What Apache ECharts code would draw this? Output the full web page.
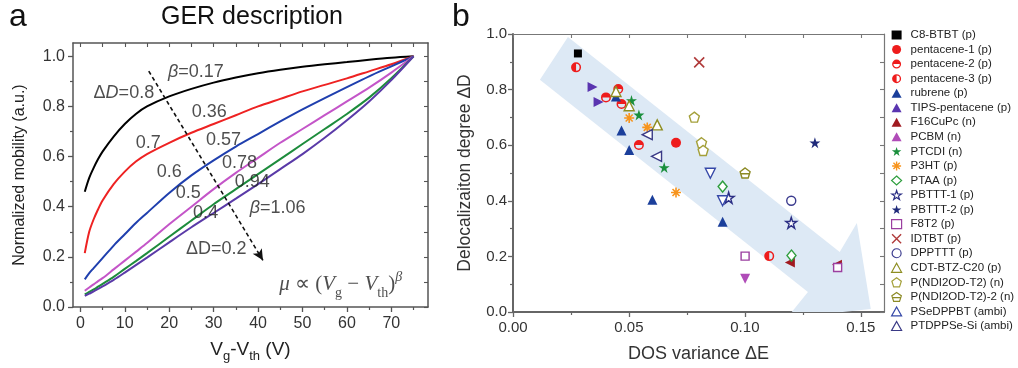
<!DOCTYPE html>
<html>
<head>
<meta charset="utf-8">
<script src="https://cdn.jsdelivr.net/npm/echarts@6.0.0/dist/echarts.min.js"></script>
<style>
  html, body { margin: 0; padding: 0; background: #fff; }
  #chart { width: 1018px; height: 368px; }
</style>
</head>
<body>
<div id="chart"></div>
<script>
const FONT = "'Liberation Sans', Arial, sans-serif";

// ---- panel a: normalized mobility vs Vg-Vth, one curve per beta ----
const vgValues = [1, 2, 3, 4, 5, 7.5, 10, 12.5, 15, 20, 25, 30, 35, 40, 45, 50, 55, 60, 65, 70, 75];
const mobilityB017 = [0.46, 0.515, 0.555, 0.59, 0.62, 0.68, 0.73, 0.77, 0.80, 0.84, 0.87, 0.895, 0.915, 0.932, 0.946, 0.958, 0.968, 0.977, 0.986, 0.994, 1.0];
const mobilityB036 = [0.215, 0.30, 0.35, 0.39, 0.425, 0.49, 0.54, 0.58, 0.61, 0.655, 0.695, 0.73, 0.765, 0.80, 0.83, 0.86, 0.886, 0.912, 0.94, 0.968, 1.0];
const mobilityB057 = [0.11, 0.135, 0.155, 0.175, 0.195, 0.245, 0.29, 0.335, 0.375, 0.455, 0.525, 0.585, 0.64, 0.69, 0.74, 0.788, 0.833, 0.877, 0.92, 0.96, 1.0];
const mobilityB078 = [0.065, 0.078, 0.09, 0.103, 0.115, 0.15, 0.185, 0.22, 0.255, 0.33, 0.40, 0.47, 0.535, 0.595, 0.655, 0.71, 0.765, 0.82, 0.875, 0.935, 1.0];
const mobilityB094 = [0.05, 0.06, 0.07, 0.081, 0.092, 0.12, 0.152, 0.183, 0.215, 0.28, 0.345, 0.41, 0.47, 0.53, 0.59, 0.65, 0.71, 0.77, 0.835, 0.912, 1.0];
const mobilityB106 = [0.044, 0.053, 0.062, 0.072, 0.082, 0.108, 0.137, 0.167, 0.197, 0.258, 0.318, 0.375, 0.432, 0.49, 0.55, 0.61, 0.675, 0.745, 0.82, 0.905, 1.0];

const vgTicks = [0, 10, 20, 30, 40, 50, 60, 70];
const vgMinorTicks = [5, 15, 25, 35, 45, 55, 65, 75];
const mobilityTicks = [0, 0.2, 0.4, 0.6, 0.8, 1.0];
const mobilityMinorTicks = [0.1, 0.3, 0.5, 0.7, 0.9];

// text, x, y
const curveLabels = [
  ['{i|β}=0.17', 26, 0.936],
  ['Δ{i|D}=0.8', 9.8, 0.853],
  ['0.36', 29, 0.777],
  ['0.7', 15.3, 0.653],
  ['0.57', 32.2, 0.665],
  ['0.6', 20, 0.538],
  ['0.78', 35.8, 0.574],
  ['0.5', 24.3, 0.454],
  ['0.94', 38.7, 0.498],
  ['0.4', 28.2, 0.374],
  ['{i|β}=1.06', 44.4, 0.394],
  ['ΔD=0.2', 30.6, 0.233]
];
const formulaPos = [58.6, 0.088];
const trendLine = [[15.4, 0.941], [41.1, 0.186]];

// ---- panel b: delocalization degree vs DOS variance ----
const dosC8BTBT = [[0.028, 0.93]];
const dosPentacene1 = [[0.0703, 0.609]];
const dosPentacene2 = [[0.0401, 0.772], [0.0454, 0.802], [0.0468, 0.748], [0.0543, 0.601]];
const dosPentacene3 = [[0.0272, 0.880], [0.1105, 0.201]];
const dosRubrene = [[0.0444, 0.775], [0.0468, 0.653], [0.0501, 0.583], [0.0601, 0.404], [0.0904, 0.325]];
const dosTipsPentacene = [[0.0343, 0.809], [0.0369, 0.755]];
const dosF16CuPc = [[0.1194, 0.178], [0.1397, 0.170]];
const dosPCBM = [[0.1001, 0.120]];
const dosPTCDI = [[0.0511, 0.761], [0.0543, 0.709], [0.0652, 0.520]];
const dosP3HT = [[0.0501, 0.698], [0.0579, 0.664], [0.0703, 0.430]];
const dosPTAA = [[0.0904, 0.451], [0.1201, 0.203]];
const dosPBTTT1 = [[0.0930, 0.411], [0.1200, 0.321]];
const dosPBTTT2 = [[0.1302, 0.609]];
const dosF8T2 = [[0.1001, 0.201], [0.1400, 0.160]];
const dosIDTBT = [[0.0803, 0.898]];
const dosDPPTTT = [[0.1200, 0.400]];
const dosCDTBTZ = [[0.0444, 0.793], [0.0501, 0.742], [0.0622, 0.673]];
const dosPNDI = [[0.0782, 0.701], [0.0813, 0.609], [0.0820, 0.581]];
const dosPNDI2 = [[0.1001, 0.500]];
const dosPSeDPPBT = [[0.0851, 0.499], [0.0904, 0.400]];
const dosPTDPPSeSi = [[0.0579, 0.638], [0.0619, 0.560]];

const dosTicks = [0, 0.05, 0.10, 0.15];
const dosMinorTicks = [0.025, 0.075, 0.125];
const delocTicks = [0, 0.2, 0.4, 0.6, 0.8, 1.0];
const delocMinorTicks = [0.1, 0.3, 0.5, 0.7, 0.9];

// outline of the pale trend arrow, in data units
const trendArrow = [[0.0237, 0.989], [0.1409, 0.216], [0.1483, 0.320], [0.1543, 0.011],
                    [0.1181, -0.022], [0.1272, 0.072], [0.0116, 0.835]];

// symbols
const STAR = 'path://M50,0L61.2,34.5L97.6,34.5L68.2,55.9L79.4,90.5L50,69.1L20.6,90.5L31.8,55.9L2.4,34.5L38.8,34.5Z';
const ASTERISK = 'path://M0,10L20,10M10,0L10,20M3,3L17,17M17,3L3,17';
const CROSS = 'path://M0,0L20,20M20,0L0,20';
const PENTAGON = 'path://M10,0L19.5,6.9L15.9,18.1L4.1,18.1L0.5,6.9Z';
const PENTAGON_BAR = 'path://M10,0L19.5,6.9L15.9,18.1L4.1,18.1L0.5,6.9ZM1.5,10.5L18.5,10.5';
const HALF_TOP = 'path://M10,0A10,10,0,1,1,10,20A10,10,0,1,1,10,0ZM17,10L3,10A7,7,0,0,0,17,10Z';
const HALF_LEFT = 'path://M10,0A10,10,0,1,1,10,20A10,10,0,1,1,10,0ZM10,3L10,17A7,7,0,0,0,10,3Z';

// name, data, symbol, size, rotate, color, hollow
const materials = [
  ['C8-BTBT (p)', dosC8BTBT, 'rect', 8, 0, '#000000', false],
  ['pentacene-1 (p)', dosPentacene1, 'circle', 10, 0, '#ee1c1c', false],
  ['pentacene-2 (p)', dosPentacene2, HALF_TOP, 10, 0, '#ee1c1c', false],
  ['pentacene-3 (p)', dosPentacene3, HALF_LEFT, 10, 0, '#ee1c1c', false],
  ['rubrene (p)', dosRubrene, 'triangle', 10, 0, '#1b3f9b', false],
  ['TIPS-pentacene (p)', dosTipsPentacene, 'triangle', 10, -90, '#5a35b0', false],
  ['F16CuPc (n)', dosF16CuPc, 'triangle', 10, 90, '#a01a20', false],
  ['PCBM (n)', dosPCBM, 'triangle', 10, 180, '#b04cb8', false],
  ['PTCDI (n)', dosPTCDI, STAR, 11, 0, '#1a8f3c', false],
  ['P3HT (p)', dosP3HT, ASTERISK, 10, 0, '#f7941d', false],
  ['PTAA (p)', dosPTAA, 'diamond', 10, 0, '#2e9e3e', true],
  ['PBTTT-1 (p)', dosPBTTT1, STAR, 11, 0, '#2b2e84', true],
  ['PBTTT-2 (p)', dosPBTTT2, STAR, 11, 0, '#1f2a7a', false],
  ['F8T2 (p)', dosF8T2, 'rect', 8, 0, '#9b3fa0', true],
  ['IDTBT (p)', dosIDTBT, CROSS, 10, 0, '#b03a3a', false],
  ['DPPTTT (p)', dosDPPTTT, 'circle', 9, 0, '#3b3b8e', true],
  ['CDT-BTZ-C20 (p)', dosCDTBTZ, 'triangle', 10, 0, '#8e8e22', true],
  ['P(NDI2OD-T2) (n)', dosPNDI, PENTAGON, 10, 0, '#a4a03a', true],
  ['P(NDI2OD-T2)-2 (n)', dosPNDI2, PENTAGON_BAR, 10, 0, '#8c8a25', true],
  ['PSeDPPBT (ambi)', dosPSeDPPBT, 'triangle', 10, 180, '#3548a8', true],
  ['PTDPPSe-Si (ambi)', dosPTDPPSeSi, 'triangle', 10, 90, '#3a3a86', true]
];

const chart = echarts.init(document.getElementById('chart'));

function frameAxes(gridIndex, dim, min, max, major, minor, main) {
  const isX = dim === 'x';
  const base = { gridIndex, type: 'value', min, max, splitLine: { show: false } };
  return [
    Object.assign({}, base, {
      position: isX ? 'bottom' : 'left',
      name: main.name,
      nameLocation: 'middle',
      nameGap: main.nameGap,
      nameTextStyle: main.nameTextStyle,
      axisLine: { onZero: false, lineStyle: { color: main.lineColor, width: main.lineWidth } },
      axisTick: { customValues: major, length: 5, lineStyle: { color: main.lineColor, width: 1.3 } },
      axisLabel: {
        customValues: major, margin: main.margin, fontSize: main.fontSize, color: '#333',
        fontFamily: FONT, formatter: main.formatter
      }
    }),
    Object.assign({}, base, {
      position: isX ? 'bottom' : 'left',
      axisLine: { show: false, onZero: false },
      axisTick: { customValues: minor, length: 3, lineStyle: { color: main.lineColor, width: 1.2 } },
      axisLabel: { show: false }
    }),
    Object.assign({}, base, {
      position: isX ? 'top' : 'right',
      axisLine: { onZero: false, lineStyle: { color: main.frameColor, width: main.frameWidth } },
      axisTick: { inside: true, customValues: major.concat(minor), length: 4, lineStyle: { color: main.frameColor, width: 1.1 } },
      axisLabel: { show: false }
    })
  ];
}

const subRich = {
  s: { fontSize: 13, verticalAlign: 'bottom', lineHeight: 14, fontFamily: FONT, color: '#222' }
};

const xAxes = frameAxes(0, 'x', -1.65, 78.25, vgTicks, vgMinorTicks, {
  name: 'V{s|g}-V{s|th} (V)', nameGap: 28,
  nameTextStyle: { fontSize: 19, color: '#222', fontFamily: FONT, lineHeight: 26, rich: subRich },
  lineColor: '#555', lineWidth: 1.5, frameColor: '#555', frameWidth: 1.5,
  margin: 9, fontSize: 16, formatter: v => String(v)
}).concat(frameAxes(1, 'x', 0, 0.16, dosTicks, dosMinorTicks, {
  name: 'DOS variance ΔE', nameGap: 33,
  nameTextStyle: { fontSize: 18, color: '#333', fontFamily: FONT },
  lineColor: '#666', lineWidth: 2, frameColor: '#777', frameWidth: 1.2,
  margin: 8, fontSize: 15, formatter: v => v.toFixed(2)
}));

const yAxes = frameAxes(0, 'y', 0, 1.053, mobilityTicks, mobilityMinorTicks, {
  name: 'Normalized mobility (a.u.)', nameGap: 45,
  nameTextStyle: { fontSize: 16, color: '#222', fontFamily: FONT },
  lineColor: '#555', lineWidth: 1.5, frameColor: '#555', frameWidth: 1.5,
  margin: 8, fontSize: 16, formatter: v => v.toFixed(1)
}).concat(frameAxes(1, 'y', 0, 1.0, delocTicks, delocMinorTicks, {
  name: 'Delocalizaiton degree ΔD', nameGap: 39,
  nameTextStyle: { fontSize: 17.5, color: '#333', fontFamily: FONT },
  lineColor: '#666', lineWidth: 2, frameColor: '#777', frameWidth: 1.2,
  margin: 6, fontSize: 15, formatter: v => v.toFixed(1)
}));

const curves = [
  [mobilityB017, '#000000'],
  [mobilityB036, '#ee2222'],
  [mobilityB057, '#1f3fae'],
  [mobilityB078, '#c455c8'],
  [mobilityB094, '#1d8c3c'],
  [mobilityB106, '#5a3aa8']
];

const series = curves.map(([vals, color]) => ({
  type: 'line',
  xAxisIndex: 0, yAxisIndex: 0,
  data: vgValues.map((v, i) => [v, vals[i]]),
  smooth: 0.3,
  showSymbol: false,
  lineStyle: { color, width: 2 },
  z: 2,
  silent: true
}));

const serif = "'Liberation Serif', serif";
series.push({
  type: 'scatter',
  xAxisIndex: 0, yAxisIndex: 0,
  symbolSize: 1,
  itemStyle: { color: 'rgba(0,0,0,0)' },
  silent: true,
  z: 5,
  data: curveLabels.map(([t, x, y]) => ({ value: [x, y], name: t })).concat([{
    value: formulaPos,
    name: '{m|μ} ∝ ({m|V}{s|g} − {m|V}{s|th}){p|β}',
    label: {
      fontFamily: serif, fontSize: 21, color: '#222', lineHeight: 30,
      rich: {
        m: { fontFamily: serif, fontStyle: 'italic', fontSize: 21, color: '#222' },
        s: { fontFamily: serif, fontSize: 14, verticalAlign: 'bottom', lineHeight: 16, color: '#222' },
        p: { fontFamily: serif, fontStyle: 'italic', fontSize: 14, verticalAlign: 'top', lineHeight: 14, color: '#222' }
      }
    }
  }]),
  label: {
    show: true,
    position: 'inside',
    formatter: '{b}',
    fontFamily: FONT,
    fontSize: 18,
    color: '#222',
    rich: { i: { fontStyle: 'italic', fontFamily: FONT, fontSize: 18, color: '#222' } }
  },
  markLine: {
    silent: true,
    symbol: ['none', 'arrow'],
    symbolSize: [8, 11],
    label: { show: false },
    lineStyle: { type: [4, 3], color: '#111', width: 1.6 },
    data: [[{ coord: trendLine[0] }, { coord: trendLine[1] }]]
  }
});

series.push({
  type: 'custom',
  xAxisIndex: 3, yAxisIndex: 3,
  silent: true,
  z: 1,
  clip: true,
  data: trendArrow,
  encode: { x: 0, y: 1 },
  renderItem: (params, api) => {
    if (params.dataIndex !== 0) return null;
    const cs = params.coordSys;
    return {
      type: 'polygon',
      shape: { points: trendArrow.map(p => api.coord(p)) },
      style: { fill: '#dde9f5' },
      clipPath: { type: 'rect', shape: { x: cs.x, y: cs.y, width: cs.width, height: cs.height } }
    };
  }
});

function markerStyle(symbol, color, hollow, width) {
  if (hollow) return { color: '#ffffff', borderColor: color, borderWidth: width, opacity: 1 };
  if (symbol === ASTERISK || symbol === CROSS) return { color, borderColor: color, borderWidth: width + 0.2, opacity: 1 };
  return { color, borderWidth: 0, opacity: 1 };
}

materials.forEach(([name, data, symbol, size, rotate, color, hollow]) => {
  series.push({
    name,
    type: 'scatter',
    xAxisIndex: 3, yAxisIndex: 3,
    data,
    symbol,
    symbolSize: symbol === 'diamond' ? [9, 11] : size,
    symbolRotate: rotate,
    z: 3,
    itemStyle: markerStyle(symbol, color, hollow, 1.4)
  });
});

chart.setOption({
  animation: false,
  backgroundColor: '#ffffff',
  textStyle: { fontFamily: FONT },
  title: [
    { text: 'a', left: 9, top: 1, padding: 0, textStyle: { fontSize: 32, fontWeight: 'normal', color: '#111', fontFamily: FONT } },
    { text: 'GER description', left: 252, textAlign: 'center', top: 5, padding: 0, textStyle: { fontSize: 25, fontWeight: 'normal', color: '#111', fontFamily: FONT } },
    { text: 'b', left: 452, top: 1, padding: 0, textStyle: { fontSize: 32, fontWeight: 'normal', color: '#111', fontFamily: FONT } }
  ],
  grid: [
    { left: 73, top: 43, width: 355, height: 264, outerBoundsMode: 'none' },
    { left: 513, top: 34, width: 371, height: 278, outerBoundsMode: 'none' }
  ],
  xAxis: xAxes,
  yAxis: yAxes,
  legend: {
    data: materials.map(([name, , symbol, , rotate, color, hollow]) => ({
      name,
      symbolRotate: rotate,
      itemStyle: markerStyle(symbol, color, hollow, 1.2)
    })),
    orient: 'vertical',
    left: 891,
    top: 29,
    padding: 0,
    itemWidth: 10,
    itemHeight: 9,
    itemGap: 2.55,
    selectedMode: false,
    textStyle: { fontSize: 11.5, color: '#222', fontFamily: FONT, padding: [0, 0, 0, 4] }
  },
  series
});
</script>
</body>
</html>
